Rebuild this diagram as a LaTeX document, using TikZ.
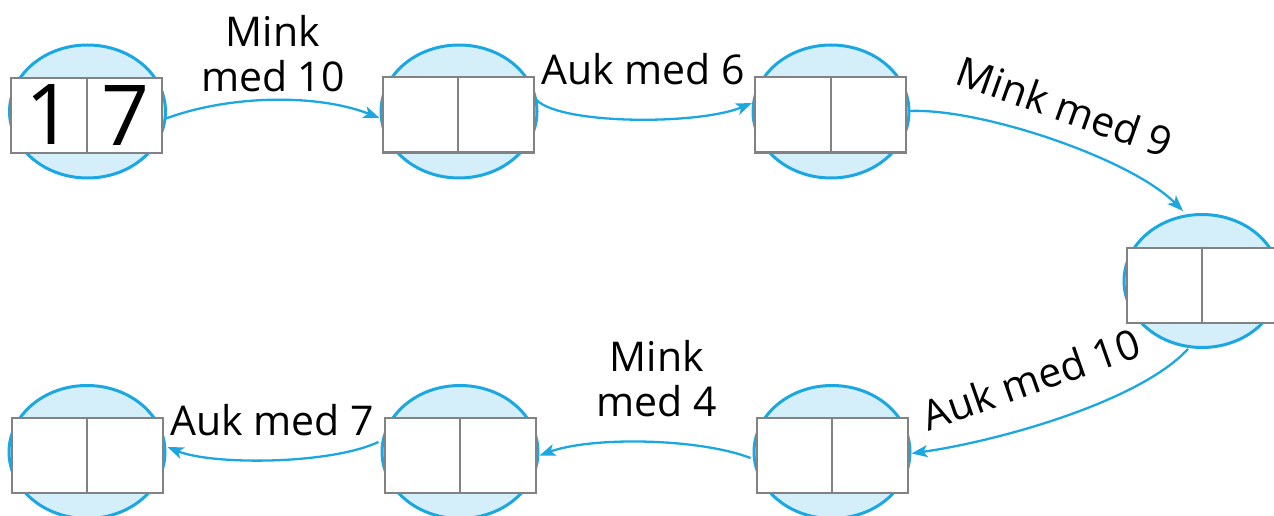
\documentclass[tikz,border=0pt]{standalone}
\usepackage{fontspec}
\setmainfont{Open Sans}
\usetikzlibrary{arrows.meta,calc,shapes.geometric}
\definecolor{cyanline}{HTML}{1BA8E2}
\definecolor{blobfill}{HTML}{D4EEFA}
\definecolor{cellgray}{HTML}{828282}
\tikzset{
 blob/.style={ellipse, draw=cyanline, fill=blobfill, line width=3pt, minimum width=156pt, minimum height=133pt, inner sep=0pt},
 cell/.style={rectangle, draw=cellgray, fill=white, line width=2pt, minimum width=151pt, minimum height=75pt, inner sep=0pt},
 divider/.style={draw=cellgray, line width=2pt},
 flow/.style={draw=cyanline, line width=2.3pt, -{Stealth[length=16pt,width=12pt,inset=4pt]}},
 lbl/.style={font=\fontsize{41}{45}\selectfont, align=center, inner sep=0pt},
 digit/.style={font=\fontsize{84}{90}\selectfont, inner sep=0pt}
}
\begin{document}
\begin{tikzpicture}[x=1pt,y=-1pt]
\useasboundingbox (0,0) rectangle (1274,516);
% blobs
\node[blob] (e1) at (87.5,111.5) {};
\node[blob] (e2) at (459,111.5) {};
\node[blob] (e3) at (831,111.5) {};
\node[blob] (e4) at (1202,281) {};
\node[blob] (e5) at (832,452) {};
\node[blob] (e6) at (460,452) {};
\node[blob] (e7) at (87,452) {};
% cells
\node[cell] (r1) at (86.5,115.5) {};
\node[cell] (r2) at (458,115) {};
\node[cell] (r3) at (830.5,115) {};
\node[cell] (r4) at (1202,285) {};
\node[cell] (r5) at (832,455.5) {};
\node[cell] (r6) at (460,455.5) {};
\node[cell] (r7) at (87,455.5) {};
\foreach \r in {r1,r2,r3,r4,r5,r6,r7} {
  \draw[divider] (\r.north) -- (\r.south);
}
% digits
\node[digit] (d1) at (50,115) {1};
\node[digit] (d2) at (126,116) {7};
% connectors
\draw[flow] ($(r1.east)+(3,3)$) .. controls +(65,-24) and +(-61,-24) .. ($(r2.west)+(-2,3)$);
\draw[flow] ($(r2.east)+(2,-15)$) .. controls +(25,25) and +(-53,22) .. ($(r3.west)+(-2,-12)$);
\draw[flow] ($(r3.east)+(3,-4)$) .. controls +(70,-3) and +(-53,-53) .. ($(e4.north)+(-19,-2)$);
\draw[flow] ($(e4.south)+(-14,0)$) .. controls +(-48,52) and +(90,-13) .. ($(r5.east)+(3,-2)$);
\draw[flow] ($(r5.west)+(-5,2.5)$) .. controls +(-52,-20) and +(52,-19) .. ($(r6.east)+(3,0)$);
\draw[flow] ($(r6.west)+(-5,-13.5)$) .. controls +(-50,23) and +(44,18) .. ($(r7.east)+(4,-8.5)$);
% labels
\node[lbl, anchor=base] (l1) at (273,92) {Mink\\med 10};
\node[lbl, anchor=base] (l2) at (643,85) {Auk med 6};
\node[lbl, anchor=base, rotate=-19.5] (l3) at (1060,121) {Mink med 9};
\node[lbl, anchor=base, rotate=19.3] (l4) at (1036,393.5) {Auk med 10};
\node[lbl, anchor=base] (l5) at (657,416) {Mink\\med 4};
\node[lbl, anchor=base] (l6) at (272,435) {Auk med 7};
\end{tikzpicture}
\end{document}
